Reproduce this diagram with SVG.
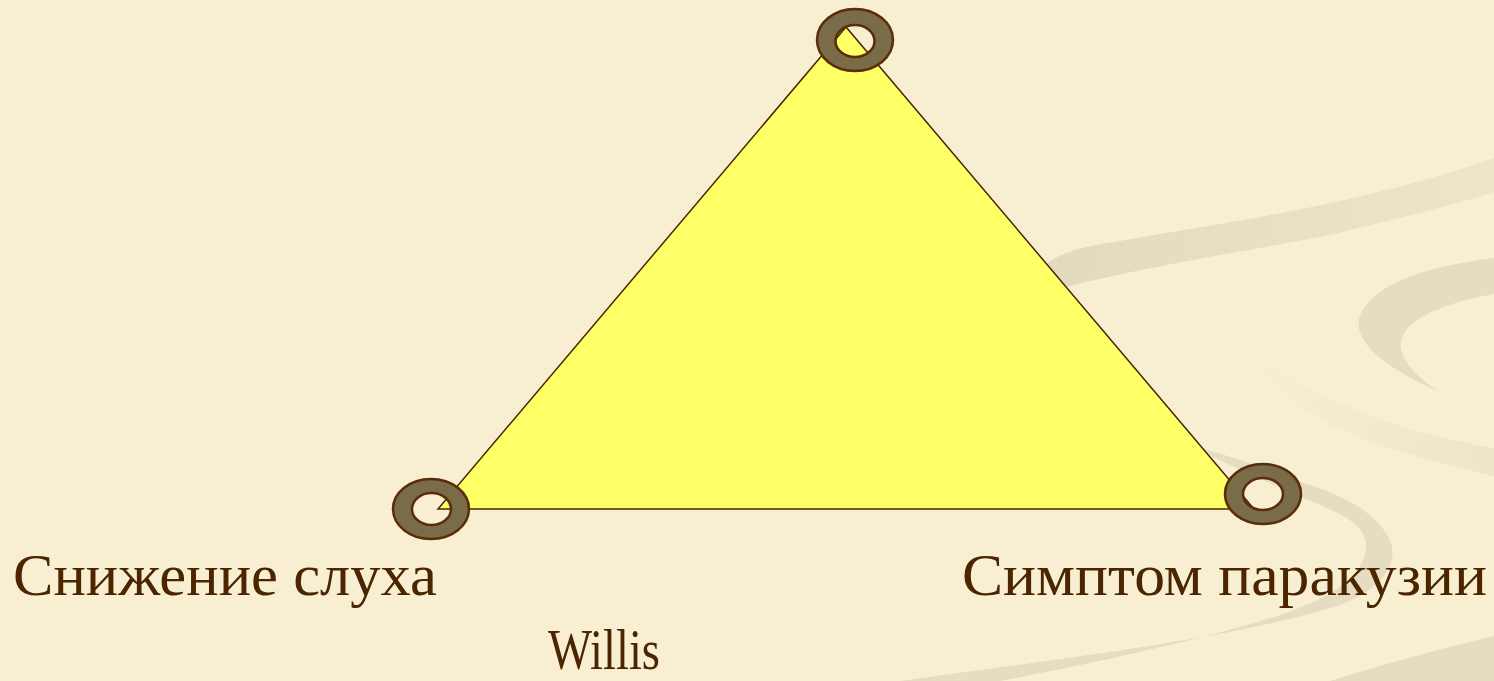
<svg xmlns="http://www.w3.org/2000/svg" width="1494" height="681" viewBox="0 0 1494 681">
  <defs>
    <style>
      .bg { fill: #F8EFD3; }
      .swoosh { fill: #E6DCC1; }
      .tri { fill: #FFFF66; stroke: #4A2500; stroke-width: 1.5; stroke-linejoin: miter; }
      .ring { fill: #7A6B49; stroke: #5A2C08; stroke-width: 2.5; fill-rule: evenodd; }
      .label { font-family: "Liberation Serif", "DejaVu Serif", serif; font-size: 60px; fill: #4A2500; }
    </style>
    <linearGradient id="fadeA" x1="0" y1="0" x2="1" y2="0">
      <stop offset="0" stop-color="#E3D9BE"/>
      <stop offset="1" stop-color="#EDE4C9"/>
    </linearGradient>
    <linearGradient id="fadeC" x1="0" y1="0" x2="1" y2="0">
      <stop offset="0" stop-color="#F8EFD3"/>
      <stop offset="1" stop-color="#EEE4C8"/>
    </linearGradient>
  </defs>

  <rect class="bg" x="0" y="0" width="1494" height="681"/>

  <g id="background-swooshes">
    <path fill="url(#fadeA)" d="M1044,266 C1055,256 1072,250 1090,246 C1180,230 1280,216 1370,194 C1420,182 1460,170 1494,158 L1494,192 C1450,206 1400,218 1330,235 C1240,252 1140,268 1070,286 C1052,291 1038,278 1044,266 Z"/>
    <path class="swoosh" d="M1494,258 C1430,266 1375,282 1360,315 C1350,345 1395,372 1440,392 C1408,372 1394,350 1404,333 C1418,312 1460,300 1494,294 Z"/>
    <path fill="url(#fadeC)" d="M1248,348 C1275,375 1330,402 1400,426 C1440,438 1470,444 1494,448 L1494,476 C1460,468 1420,458 1380,445 C1320,425 1275,398 1248,348 Z"/>
    <path class="swoosh" d="M1190,446 C1230,455 1270,470 1300,482 C1340,494 1375,510 1390,540 C1400,565 1380,590 1340,605 C1230,640 1050,660 900,681 L1000,681 C1100,662 1200,640 1280,615 C1330,598 1358,580 1365,555 C1370,530 1355,520 1320,505 C1280,488 1240,470 1190,446 Z"/>
    <path class="swoosh" d="M1330,681 C1390,662 1445,648 1494,636 L1494,681 Z"/>
  </g>

  <g id="connectors">
    <polygon id="triangle" class="tri" points="846,27 438,509 1254,509"/>
  </g>

  <g id="node-top">
    <path class="ring" d="M817,40 a38,31 0 1,0 76,0 a38,31 0 1,0 -76,0 Z M835.5,41 a19.5,16 0 1,0 39,0 a19.5,16 0 1,0 -39,0 Z"/>
  </g>
  <g id="node-left">
    <path class="ring" d="M393,509 a38,30 0 1,0 76,0 a38,30 0 1,0 -76,0 Z M412,509 a19.5,16 0 1,0 39,0 a19.5,16 0 1,0 -39,0 Z"/>
  </g>
  <g id="node-right">
    <path class="ring" d="M1225,494 a38,30 0 1,0 76,0 a38,30 0 1,0 -76,0 Z M1243,494 a20,16 0 1,0 40,0 a20,16 0 1,0 -40,0 Z"/>
  </g>

  <g id="label-left">
    <text class="label" x="13" y="595" textLength="424" lengthAdjust="spacingAndGlyphs">Снижение слуха</text>
  </g>
  <g id="label-right">
    <text class="label" x="962" y="595" textLength="525" lengthAdjust="spacingAndGlyphs">Симптом паракузии</text>
  </g>
  <g id="label-bottom">
    <text class="label" x="548" y="669" style="font-size:57px" textLength="112" lengthAdjust="spacingAndGlyphs">Willis</text>
  </g>
</svg>
